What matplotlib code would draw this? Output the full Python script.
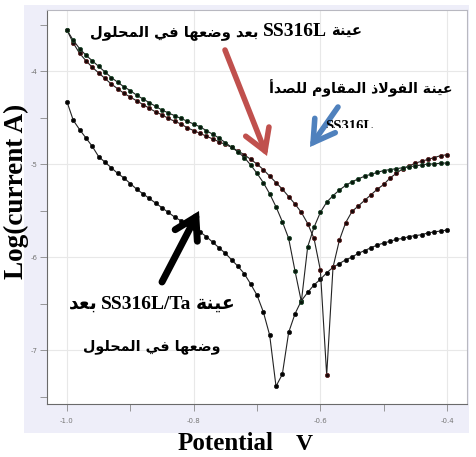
import numpy as np
import matplotlib
matplotlib.use("Agg")
import matplotlib.pyplot as plt
from matplotlib.patches import Rectangle, FancyArrowPatch
from matplotlib.ticker import MultipleLocator
from matplotlib.transforms import Bbox

# potential steps (V), 0.01 V apart
potential = np.round(np.arange(-1.00, -0.395, 0.01), 2)

# SS316L (green-ish markers)
log_i_ss316l = [-3.56, -3.67, -3.76, -3.83, -3.89, -3.95, -4.01, -4.07, -4.12, -4.17,
                -4.21, -4.26, -4.30, -4.34, -4.38, -4.42, -4.45, -4.48, -4.51, -4.54,
                -4.57, -4.60, -4.64, -4.68, -4.72, -4.77, -4.82, -4.87, -4.93, -5.01,
                -5.10, -5.20, -5.32, -5.46, -5.62, -5.80, -6.15, -6.48, -5.89, -5.68,
                -5.52, -5.41, -5.34, -5.28, -5.23, -5.19, -5.16, -5.13, -5.11, -5.09,
                -5.07, -5.06, -5.05, -5.04, -5.03, -5.02, -5.01, -5.00, -5.00, -4.99,
                -4.99]

# SS316L after immersion (red-ish markers)
log_i_ss316l_sol = [-3.56, -3.70, -3.81, -3.89, -3.96, -4.02, -4.08, -4.14, -4.19, -4.24,
                    -4.28, -4.32, -4.36, -4.40, -4.44, -4.47, -4.51, -4.54, -4.57, -4.61,
                    -4.64, -4.67, -4.70, -4.73, -4.76, -4.79, -4.82, -4.86, -4.90, -4.95,
                    -5.00, -5.06, -5.13, -5.20, -5.27, -5.35, -5.43, -5.52, -5.64, -5.80,
                    -6.14, -7.27, -6.11, -5.82, -5.63, -5.51, -5.45, -5.39, -5.33, -5.27,
                    -5.22, -5.15, -5.10, -5.05, -5.02, -4.99, -4.97, -4.95, -4.93, -4.91,
                    -4.90]

# SS316L/Ta after immersion
log_i_ta = [-4.33, -4.53, -4.63, -4.72, -4.81, -4.92, -4.98, -5.04, -5.10, -5.15,
            -5.21, -5.27, -5.32, -5.37, -5.42, -5.47, -5.52, -5.57, -5.61, -5.65,
            -5.69, -5.73, -5.78, -5.84, -5.90, -5.96, -6.03, -6.10, -6.18, -6.29,
            -6.41, -6.59, -6.84, -7.39, -7.26, -6.81, -6.61, -6.47, -6.38, -6.30,
            -6.24, -6.17, -6.11, -6.07, -6.03, -6.00, -5.96, -5.93, -5.90, -5.87,
            -5.85, -5.83, -5.81, -5.80, -5.78, -5.77, -5.76, -5.74, -5.73, -5.72,
            -5.71]

x_ticks = [-1.0, -0.8, -0.6, -0.4]
x_tick_labels = ["-1.0", "-0.8", "-0.6", "-0.4"]
y_ticks = [-4, -5, -6, -7]
y_tick_labels = ["-4", "-5", "-6", "-7"]

# --- tiny Arabic shaper (matplotlib has no text shaping / bidi) ---
FORMS = {
    'ا': (0xFE8D, 0xFE8E), 'أ': (0xFE83, 0xFE84), 'ة': (0xFE93, 0xFE94),
    'د': (0xFEA9, 0xFEAA), 'ذ': (0xFEAB, 0xFEAC), 'و': (0xFEED, 0xFEEE),
    'ب': (0xFE8F, 0xFE90, 0xFE91, 0xFE92), 'ح': (0xFEA1, 0xFEA2, 0xFEA3, 0xFEA4),
    'ص': (0xFEB9, 0xFEBA, 0xFEBB, 0xFEBC), 'ض': (0xFEBD, 0xFEBE, 0xFEBF, 0xFEC0),
    'ع': (0xFEC9, 0xFECA, 0xFECB, 0xFECC), 'ف': (0xFED1, 0xFED2, 0xFED3, 0xFED4),
    'ق': (0xFED5, 0xFED6, 0xFED7, 0xFED8), 'ل': (0xFEDD, 0xFEDE, 0xFEDF, 0xFEE0),
    'م': (0xFEE1, 0xFEE2, 0xFEE3, 0xFEE4), 'ن': (0xFEE5, 0xFEE6, 0xFEE7, 0xFEE8),
    'ه': (0xFEE9, 0xFEEA, 0xFEEB, 0xFEEC), 'ي': (0xFEF1, 0xFEF2, 0xFEF3, 0xFEF4),
}
LAM_ALEF = {'ا': (0xFEFB, 0xFEFC), 'أ': (0xFEF7, 0xFEF8)}


def shape_word(w):
    units = []
    i = 0
    while i < len(w):
        if w[i] == 'ل' and i + 1 < len(w) and w[i + 1] in LAM_ALEF:
            units.append(('LA', w[i + 1]))
            i += 2
        else:
            units.append(('C', w[i]))
            i += 1

    def joins_next(u):
        return u[0] == 'C' and u[1] in FORMS and len(FORMS[u[1]]) == 4

    def is_ar(u):
        return u[0] == 'LA' or u[1] in FORMS

    out = []
    for k, u in enumerate(units):
        p = k > 0 and joins_next(units[k - 1])
        if u[0] == 'LA':
            out.append(chr(LAM_ALEF[u[1]][1 if p else 0]))
            continue
        f = FORMS.get(u[1])
        if f is None:
            out.append(u[1])
            continue
        n = k + 1 < len(units) and is_ar(units[k + 1]) and len(f) == 4
        if p and n:
            c = f[3]
        elif p:
            c = f[1]
        elif n:
            c = f[2]
        else:
            c = f[0]
        out.append(chr(c))
    return ''.join(out)


def rtl(text):
    # visual (left-to-right) order of an Arabic phrase
    vis = [shape_word(w)[::-1] for w in text.split(' ')]
    return ' '.join(vis[::-1])


W, H = 476, 457
AR = 'DejaVu Sans'
LAT = 'Liberation Serif'

fig = plt.figure(figsize=(W / 100, H / 100), dpi=100)
fig.patch.set_facecolor('white')
fig.patches.append(Rectangle((24 / W, 1 - 433 / H), 445 / W, 428 / H,
                             transform=fig.transFigure, facecolor='#eeeef9',
                             edgecolor='none', zorder=-5))

ax = fig.add_axes([47 / W, 1 - 404 / H, 420 / W, 394 / H])
ax.set_facecolor('white')

ax.plot(potential, log_i_ta, color='#222222', lw=0.8, marker='o', ms=3.0,
        mfc='black', mec='#202020', mew=0.6, zorder=3)
ax.plot(potential, log_i_ss316l_sol, color='#222222', lw=0.8, marker='o', ms=3.0,
        mfc='#140808', mec='#5e2222', mew=0.6, zorder=3)
ax.plot(potential, log_i_ss316l, color='#222222', lw=0.8, marker='o', ms=3.0,
        mfc='#08140b', mec='#1e4a2c', mew=0.6, zorder=4)

ax.set_xlim(-1.0315, -0.3685)
ax.set_ylim(-7.58, -3.344)
ax.set_xticks(x_ticks)
ax.set_xticklabels(x_tick_labels)
ax.set_yticks(y_ticks)
ax.set_yticklabels(y_tick_labels)
ax.xaxis.set_minor_locator(MultipleLocator(0.1))
ax.yaxis.set_minor_locator(MultipleLocator(0.5))
ax.tick_params(which='both', direction='out', length=5, width=0.6, color='#888888',
               labelsize=5, labelcolor='#777777', pad=2)
ax.tick_params(axis='x', pad=5)
ax.grid(True, which='major', color='#e8e8e8', lw=0.8)
ax.set_axisbelow(True)
for side in ['left', 'bottom']:
    ax.spines[side].set_color('#6a6a6a')
for side in ['top', 'right']:
    ax.spines[side].set_color('#b8b8c0')

fig.text(16 / W, 1 - 191 / H, "Log(current A)", rotation=90, ha='center',
         va='center', fontsize=19.5, fontweight='bold', family=LAT)
fig.text(226 / W, 1 - 444 / H, "Potential", ha='center', va='center',
         fontsize=18, fontweight='bold', family=LAT)
fig.text(304 / W, 1 - 444 / H, "V", ha='center', va='center',
         fontsize=17, fontweight='bold', family=LAT)

renderer = fig.canvas.get_renderer()


def rich_line(xc, yb, runs, gap=4):
    # runs in visual order, left to right: (text, size, family)
    texts = [fig.text(0, 1 - yb / H, s, fontsize=fs, fontweight='bold', family=f,
                      ha='left', va='baseline', zorder=7) for s, fs, f in runs]
    widths = [t.get_window_extent(renderer).width for t in texts]
    x = xc - (sum(widths) + gap * (len(texts) - 1)) / 2
    for t, w in zip(texts, widths):
        t.set_x(x / W)
        x += w + gap
    return texts


# annotations
rich_line(226, 36, [(rtl("بعد وضعها في المحلول"), 10.6, AR), ("SS316L", 14, LAT),
                    (rtl("عينة"), 10.6, AR)])
rich_line(361, 93, [(rtl("عينة الفولاذ المقاوم للصدأ"), 10.2, AR)])
ss = rich_line(349, 130, [("SS316L", 10.5, LAT)])
ss[0].set_clip_box(Bbox.from_extents(0, H - 128, W, H))
ss[0].set_clip_on(True)
rich_line(152, 309, [(rtl("بعد"), 13.5, AR), ("SS316L/Ta", 14, LAT),
                     (rtl("عينة"), 13.5, AR)])
rich_line(152, 350, [(rtl("وضعها في المحلول"), 10.4, AR)])


def fig_arrow(x0, y0, x1, y1, color, lw):
    fig.add_artist(FancyArrowPatch(
        (x0 / W, 1 - y0 / H), (x1 / W, 1 - y1 / H),
        transform=fig.transFigure, arrowstyle='->,head_length=0.75,head_width=0.45',
        mutation_scale=20, color=color, lw=lw, shrinkA=0, shrinkB=0,
        capstyle='round', joinstyle='miter', zorder=6))


fig_arrow(225, 50, 267, 156, '#c0504d', 4)
fig_arrow(338, 107, 310, 147, '#4f81bd', 4)
fig_arrow(162, 282, 199, 211, 'black', 5)

fig.savefig('out.png', dpi=100)
